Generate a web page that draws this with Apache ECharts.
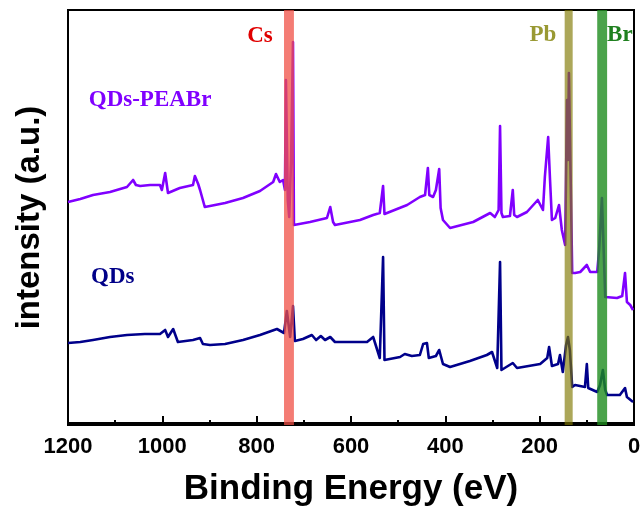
<!DOCTYPE html>
<html>
<head>
<meta charset="utf-8">
<script src="https://cdn.jsdelivr.net/npm/echarts@6/dist/echarts.min.js"></script>
<style>html,body{margin:0;padding:0;background:#fff}#c{width:644px;height:513px}</style>
</head>
<body>
<div id="c"></div>
<script>
// X tick values (eV)
const xTicks = [1200, 1000, 800, 600, 400, 200, 0];

// QDs-PEABr spectrum
const peabrEnergy = [1200,1174,1147,1111,1075,1062,1056,1047,1026,1005,1001,994,988,963,935,931,924,920,910,899,867,829,793,765,759,751,744,740,738,734,731,727,723,721,719,687,651,644,638,634,581,553,539,535,532,529,526,481,454,443,439,437,434,426,420,416,413,410,405,390,341,305,295,287,284,281,278,263,259,257,254,248,227,204,193,189,182,178,174,167,159,153,146,142,140,138,131,125,114,100,93,78,74,68,61,57,36,25,19,15,8,2];
const peabrIntensity = [221,224,228,231,236,243,238,237,238,238,233,250,230,235,238,247,239,233,216,217,220,225,232,241,249,241,243,233,343,223,206,263,381,198,198,201,205,216,201,198,203,208,210,211,237,209,207,218,226,228,228,255,228,226,233,233,254,215,203,195,201,210,206,213,297,210,206,207,207,233,208,206,211,223,213,246,286,243,203,205,218,193,178,323,263,350,150,150,151,158,151,151,173,225,126,125,125,127,150,121,118,113];

// QDs spectrum
const qdsEnergy = [1200,1174,1147,1111,1075,1037,1005,994,988,977,967,935,920,914,899,867,829,793,757,742,736,729,723,719,702,683,674,664,655,644,634,581,566,553,539,535,532,529,526,496,486,471,454,447,443,439,435,420,413,405,390,348,312,301,290,287,284,281,278,257,248,199,184,180,174,161,157,151,144,140,136,131,125,104,100,97,78,72,66,61,57,30,19,15,2];
const qdsIntensity = [80,81,83,86,88,89,89,93,86,94,81,83,85,79,78,79,83,88,94,90,112,86,117,82,84,88,83,87,83,86,81,81,81,86,65,64,166,63,63,66,69,67,68,79,77,80,65,67,73,59,56,62,68,71,55,55,161,53,53,60,55,59,65,76,57,59,68,51,78,86,73,36,38,36,59,35,31,38,53,33,28,28,35,26,21];

// Element bands (eV ranges)
const bandNames = ['Cs', 'Pb', 'Br'];
const bandFrom = [721, 130, 57];
const bandTo = [742, 147, 78];
const bandColors = ['rgba(240,80,70,0.75)', 'rgba(128,120,0,0.65)', 'rgba(30,140,30,0.8)'];

// Text annotations
const noteText = ['Cs', 'Pb', 'Br', 'QDs-PEABr', 'QDs'];
const noteX = [793, 193, 30, 1026, 1105];
const noteY = [387, 388, 388, 323, 146];
const noteColors = ['#e00000', '#999933', '#1f801f', '#8000ff', '#000088'];

const zip = (a, b) => a.map((v, i) => [v, b[i]]);

const chart = echarts.init(document.getElementById('c'), null, {renderer: 'canvas'});
chart.setOption({
  animation: false,
  backgroundColor: '#fff',
  grid: {left: 68, right: 10, top: 10, bottom: 88, show: true, borderColor: '#000', borderWidth: 2, backgroundColor: 'transparent'},
  xAxis: {
    type: 'value', inverse: true, min: 0, max: 1200, interval: 200,
    name: 'Binding Energy (eV)', nameLocation: 'middle', nameGap: 47,
    nameTextStyle: {fontFamily: 'Liberation Sans, Arial', fontWeight: 'bold', fontSize: 35, color: '#000'},
    axisLine: {lineStyle: {color: '#000', width: 2}},
    axisTick: {inside: true, length: 7, lineStyle: {color: '#000', width: 2}},
    minorTick: {show: true, splitNumber: 2, length: 3, lineStyle: {color: '#000', width: 2}},
    splitLine: {show: false},
    axisLabel: {margin: 11, fontFamily: 'Liberation Sans, Arial', fontWeight: 'bold', fontSize: 22, color: '#000',
      formatter: v => xTicks.includes(v) ? String(v) : ''}
  },
  yAxis: {
    type: 'value', min: -2, max: 413,
    name: 'intensity (a.u.)', nameLocation: 'middle', nameGap: 22,
    nameTextStyle: {fontFamily: 'Liberation Sans, Arial', fontWeight: 'bold', fontSize: 33, color: '#000'},
    axisLine: {show: true, lineStyle: {color: '#000', width: 2}},
    axisTick: {show: false}, axisLabel: {show: false}, splitLine: {show: false}
  },
  series: [
    {
      type: 'line', name: 'QDs-PEABr', data: zip(peabrEnergy, peabrIntensity), showSymbol: false, symbol: 'none',
      lineStyle: {color: '#8000ff', width: 2.6, join: 'round'}, z: 2
    },
    {
      type: 'line', name: 'QDs', data: zip(qdsEnergy, qdsIntensity), showSymbol: false, symbol: 'none',
      lineStyle: {color: '#00008b', width: 2.6, join: 'round'}, z: 2
    },
    {
      type: 'line', name: 'bands', data: [], z: 10, silent: true,
      markArea: {
        silent: true, z: 10,
        data: bandNames.map((n, i) => [{xAxis: bandFrom[i], itemStyle: {color: bandColors[i]}}, {xAxis: bandTo[i]}])
      },
      markPoint: {
        silent: true, symbol: 'circle', symbolSize: 0,
        data: noteText.map((t, i) => ({
          coord: [noteX[i], noteY[i]], value: t,
          label: {show: true, position: 'inside', formatter: t, color: noteColors[i],
            fontFamily: 'Liberation Serif, Times New Roman', fontWeight: 'bold', fontSize: 23}
        }))
      }
    }
  ]
});
</script>
</body>
</html>
